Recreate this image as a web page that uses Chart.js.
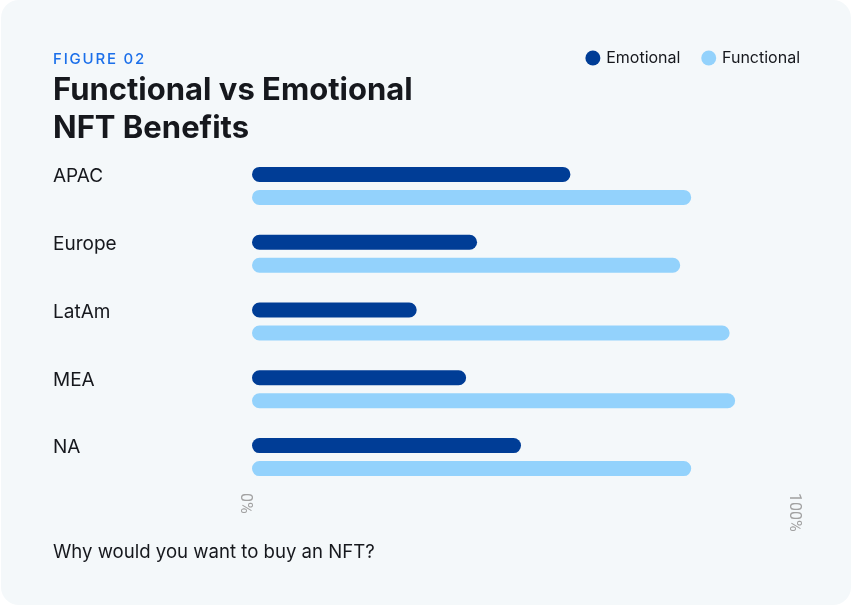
<!DOCTYPE html>
<html>
<head>
<meta charset="utf-8">
<script src="https://cdn.jsdelivr.net/npm/chart.js@4.4.0/dist/chart.umd.min.js"></script>
<style>
html,body{margin:0;padding:0;background:#ffffff;width:852px;height:615px;overflow:hidden;font-family:Inter,"Noto Sans",sans-serif;}
#card{position:absolute;left:1px;top:0;width:850px;height:605px;background:#f4f8fa;border-radius:18px;}
#c{position:absolute;left:0;top:0;}
.fig{position:absolute;left:53px;top:51px;font-size:15px;line-height:15px;letter-spacing:1.8px;color:#1b6fea;font-weight:500;white-space:nowrap;}
h1{position:absolute;left:53px;top:70px;margin:0;font-size:31px;line-height:38px;font-weight:700;color:#16181d;white-space:nowrap;}
.q{position:absolute;left:53px;top:539px;font-size:18.6px;line-height:24px;color:#16181d;white-space:nowrap;}
</style>
</head>
<body>
<div id="card"></div>
<canvas id="c" width="852" height="615"></canvas>
<div class="fig">FIGURE 02</div>
<h1>Functional vs Emotional<br>NFT Benefits</h1>
<div class="q">Why would you want to buy an NFT?</div>
<script>
const categories = ['APAC', 'Europe', 'LatAm', 'MEA', 'NA'];
const emotional = [58, 41, 30, 39, 49];
const functional = [80, 78, 87, 88, 80];
const xTickValues = [0, 100];
const xTickLabels = ['0%', '100%'];

const LEGEND_SHIFT = 22;
const legendPatch = {
  id: 'legendPatch',
  beforeInit(chart) {
    const lg = chart.legend;
    if (!lg) return;
    const fit = lg.fit;
    lg.fit = function () {
      fit.call(this);
      this.height = 125;
    };
    const draw = lg.draw;
    lg.draw = function () {
      this.right += LEGEND_SHIFT;
      draw.call(this);
      this.right -= LEGEND_SHIFT;
    };
  }
};

const xTickPlugin = {
  id: 'xTickPlugin',
  afterDraw(chart) {
    const ctx = chart.ctx;
    const xs = chart.scales.x;
    ctx.save();
    ctx.font = '16px Roboto';
    ctx.fillStyle = '#a2a2a2';
    ctx.textAlign = 'left';
    ctx.textBaseline = 'middle';
    xTickValues.forEach((v, i) => {
      const px = xs.getPixelForValue(v);
      ctx.save();
      ctx.translate(px - 7, chart.chartArea.bottom + 2);
      ctx.rotate(Math.PI / 2);
      ctx.fillText(xTickLabels[i], 0, 0);
      ctx.restore();
    });
    ctx.restore();
  }
};

new Chart(document.getElementById('c'), {
  type: 'bar',
  data: {
    labels: categories,
    datasets: [
      {
        label: 'Emotional',
        data: emotional,
        backgroundColor: '#003d96',
        borderRadius: 8,
        borderSkipped: false,
        categoryPercentage: 0.679,
        barPercentage: 0.652
      },
      {
        label: 'Functional',
        data: functional,
        backgroundColor: '#93d2fc',
        borderRadius: 8,
        borderSkipped: false,
        categoryPercentage: 0.679,
        barPercentage: 0.652
      }
    ]
  },
  options: {
    indexAxis: 'y',
    responsive: false,
    animation: false,
    layout: { padding: { left: 53, right: 51, top: 27, bottom: 124 } },
    plugins: {
      tooltip: { enabled: false },
      title: { display: false },
      legend: {
        position: 'top',
        align: 'end',
        labels: {
          usePointStyle: true,
          pointStyle: 'circle',
          boxWidth: 10.6,
          boxHeight: 10.6,
          padding: 23,
          color: '#16181d',
          font: { family: 'Inter', size: 16 }
        }
      }
    },
    scales: {
      x: {
        min: 0,
        max: 100,
        grid: { display: false },
        border: { display: false },
        ticks: { display: false },
        afterFit(axis) { axis.height = 0; }
      },
      y: {
        grid: { display: false },
        border: { display: false },
        ticks: {
          crossAlign: 'far',
          padding: 0,
          color: '#16181d',
          font: { family: 'Inter', size: 19, lineHeight: 1.0 },
          callback(value) { return [this.getLabelForValue(value), '']; }
        },
        afterFit(axis) { axis.width = 199; }
      }
    }
  },
  plugins: [legendPatch, xTickPlugin]
});
</script>
</body>
</html>
